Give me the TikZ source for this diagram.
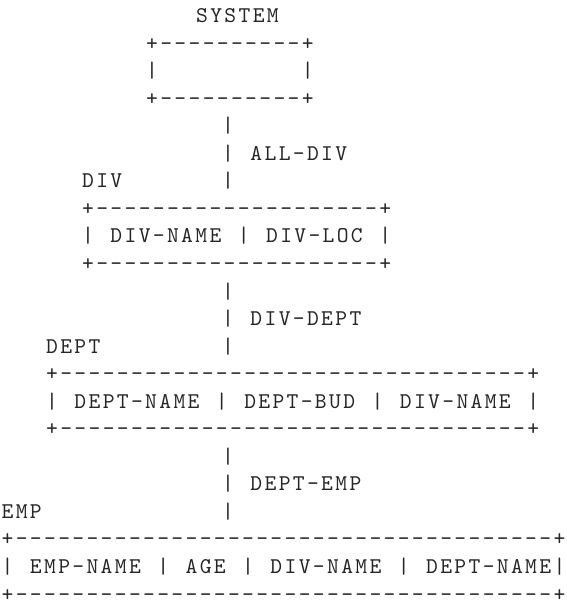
\documentclass[tikz,border=0pt]{standalone}
\usepackage{fontspec}
\newfontfamily\asciifont{lmmono10-regular.otf}
% every character sits in a cell of fixed width, as on a line printer
\newlength\cellw
\setlength\cellw{14.15pt}
\newcommand\charcell[1]{\makebox[\cellw][c]{#1}}
\newcommand\asciistr[1]{\asciiloop#1\relax}
\def\asciiloop#1{\ifx#1\relax\else\charcell{#1}\expandafter\asciiloop\fi}
% baseline of text row k
\newcommand\rowy[1]{22.5+27.55*#1}
\begin{document}
\begin{tikzpicture}[x=1pt,y=-1pt,
  ascii/.style={anchor=base west, inner sep=0pt, outer sep=0pt, text depth=0pt,
    font=\asciifont\fontsize{22.5}{28}\selectfont, text=black!85}]
\useasboundingbox (0,0) rectangle (566,605);

% SYSTEM record
\node[ascii] (sysname) at (195,{\rowy{0}}) {\asciistr{SYSTEM}};
\node[ascii] (systop)  at (145,{\rowy{1}}) {\asciistr{+----------+}};
\node[ascii] (sysmid)  at (145,{\rowy{2}}) {\asciistr{|~~~~~~~~~~|}};
\node[ascii] (sysbot)  at (145,{\rowy{3}}) {\asciistr{+----------+}};

% ALL-DIV set
\node[ascii] (alldivA) at (221,{\rowy{4}}) {\asciistr{|}};
\node[ascii] (alldivB) at (221,{\rowy{5}}) {\asciistr{|~ALL-DIV}};
\node[ascii] (alldivC) at (221,{\rowy{6}}) {\asciistr{|}};

% DIV record
\node[ascii] (divname) at (81,{\rowy{6}}) {\asciistr{DIV}};
\node[ascii] (divtop)  at (81,{\rowy{7}}) {\asciistr{+--------------------+}};
\node[ascii] (divmid)  at (81,{\rowy{8}}) {\asciistr{|~DIV-NAME~|~DIV-LOC~|}};
\node[ascii] (divbot)  at (81,{\rowy{9}}) {\asciistr{+--------------------+}};

% DIV-DEPT set
\node[ascii] (divdeptA) at (221,{\rowy{10}}) {\asciistr{|}};
\node[ascii] (divdeptB) at (221,{\rowy{11}}) {\asciistr{|~DIV-DEPT}};
\node[ascii] (divdeptC) at (221,{\rowy{12}}) {\asciistr{|}};

% DEPT record
\node[ascii] (deptname) at (45,{\rowy{12}}) {\asciistr{DEPT}};
\node[ascii] (depttop)  at (45,{\rowy{13}}) {\asciistr{+---------------------------------+}};
\node[ascii] (deptmid)  at (45,{\rowy{14}}) {\asciistr{|~DEPT-NAME~|~DEPT-BUD~|~DIV-NAME~|}};
\node[ascii] (deptbot)  at (45,{\rowy{15}}) {\asciistr{+---------------------------------+}};

% DEPT-EMP set
\node[ascii] (deptempA) at (221,{\rowy{16}}) {\asciistr{|}};
\node[ascii] (deptempB) at (221,{\rowy{17}}) {\asciistr{|~DEPT-EMP}};
\node[ascii] (deptempC) at (221,{\rowy{18}}) {\asciistr{|}};

% EMP record
\node[ascii] (empname) at (0.5,{\rowy{18}}) {\asciistr{EMP}};
\node[ascii] (emptop)  at (0.5,{\rowy{19}}) {\asciistr{+--------------------------------------+}};
\node[ascii] (empmid)  at (0.5,{\rowy{20}}) {\asciistr{|~EMP-NAME~|~AGE~|~DIV-NAME~|~DEPT-NAME|}};
\node[ascii] (empbot)  at (0.5,{\rowy{21}}) {\asciistr{+--------------------------------------+}};
\end{tikzpicture}
\end{document}
